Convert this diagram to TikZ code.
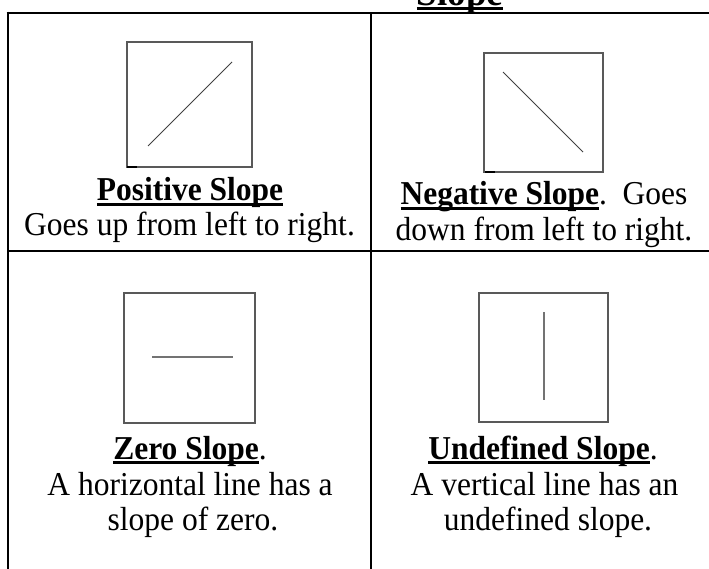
\documentclass[tikz,border=0pt]{standalone}
\usepackage{fontspec}
\usepackage{graphicx}
\setmainfont{Liberation Serif}
\newsavebox\ulbox
\newcommand\wul[2][2.5pt]{\sbox\ulbox{#2}\rlap{\rule[-4.4pt]{\wd\ulbox}{#1}}\usebox\ulbox}
\newcommand\tallt[1]{\scalebox{1}[1.06]{#1}}
\begin{document}
\begin{tikzpicture}[x=1pt,y=-1pt,
  txt/.style={inner sep=0pt, anchor=base, font=\fontsize{31.5}{36}\selectfont},
  hd/.style={txt, font=\fontsize{31.5}{36}\selectfont\bfseries},
  frame/.style={draw=black, line width=2pt},
  thickframe/.style={draw=black, line width=2.8pt},
  minibox/.style={draw=black!65, line width=1.2pt},
  slopeline/.style={draw=black!75, line width=1pt},
  flatline/.style={draw=black!55, line width=1.5pt},
  blip/.style={draw=black, line width=1.8pt}]
\useasboundingbox (0,0) rectangle (709,569);
\clip (0,0) rectangle (709,569);
% table rules
\draw[thickframe] (8,11.6) -- (8,572);
\draw[thickframe] (6.6,13) -- (371,13);
\draw[frame] (371,13) -- (712,13);
\draw[frame] (371,13) -- (371,251);
\draw[thickframe] (371,251) -- (371,572);
\draw[frame] (7,251) -- (712,251);
% title
\node[hd, font=\fontsize{37}{40}\selectfont\bfseries] (title) at (460,5.5) {\tallt{\wul[3.2pt]{Slope}}};
% positive slope picture
\draw[minibox] (127,42) rectangle (252,167);
\draw[blip] (127,167) -- (137,167);
\draw[slopeline] (148,146) -- (232,62);
% negative slope picture
\draw[minibox] (484,53) rectangle (603,172);
\draw[blip] (485,172) -- (495,172);
\draw[slopeline] (503,72) -- (583,152);
% zero slope picture
\draw[minibox] (124,293) rectangle (255,423);
\draw[flatline] (152,357) -- (233,357);
% undefined slope picture
\draw[minibox] (479,293) rectangle (608,422);
\draw[flatline] (544,312) -- (544,400);
% texts
\node[hd] (pos) at (190,201) {\tallt{\wul{Positive Slope}}};
\node[txt] (posd) at (189.5,236) {\tallt{Goes up from left to right.}};
\node[txt] (neg) at (544,205) {\tallt{\wul{\bfseries Negative Slope}.\ \ Goes}};
\node[txt] (negd) at (544,241) {\tallt{down from left to right.}};
\node[txt] (zero) at (190,459) {\tallt{\wul{\bfseries Zero Slope}.}};
\node[txt] (zerod1) at (190,495) {\tallt{A horizontal line has a}};
\node[txt] (zerod2) at (193,530) {\tallt{slope of zero.}};
\node[txt] (und) at (543,459) {\tallt{\wul{\bfseries Undefined Slope}.}};
\node[txt] (undd1) at (544.5,495) {\tallt{A vertical line has an}};
\node[txt] (undd2) at (548,530) {\tallt{undefined slope.}};
\end{tikzpicture}
\end{document}
